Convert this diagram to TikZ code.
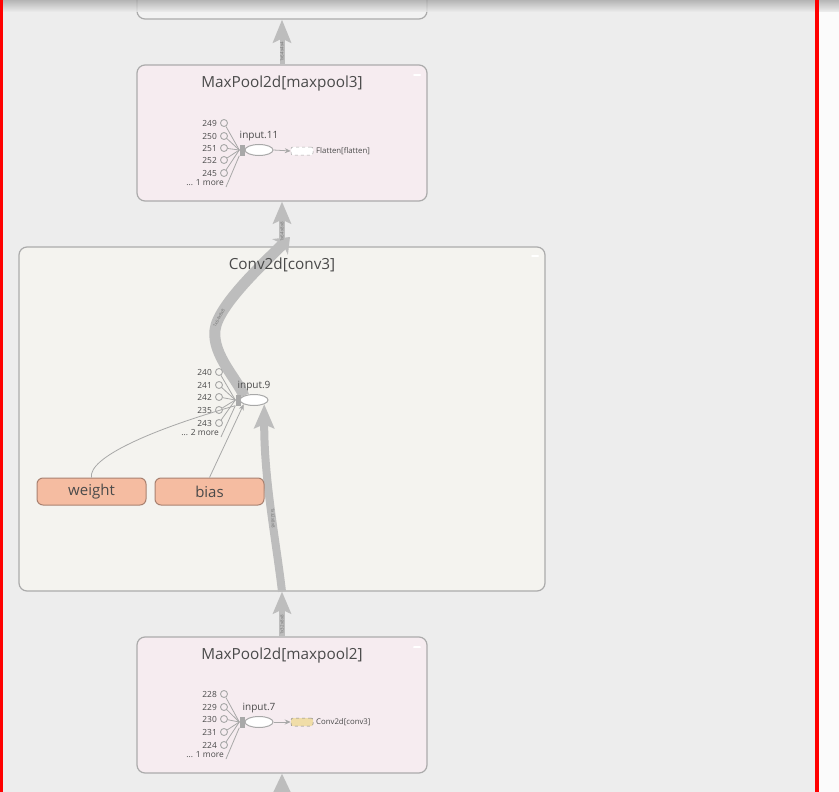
\documentclass[tikz,border=0pt]{standalone}
\usepackage{fontspec}
\setmainfont{Open Sans}
\usetikzlibrary{arrows.meta,shapes.geometric}
\definecolor{bgc}{HTML}{EDEDED}
\definecolor{boxline}{HTML}{ABABAB}
\definecolor{pinkfill}{HTML}{F6ECF0}
\definecolor{convfill}{HTML}{F4F3EF}
\definecolor{edgec}{HTML}{BDBDBD}
\definecolor{thinc}{HTML}{A8A8A8}
\definecolor{peach}{HTML}{F5BCA1}
\definecolor{peachline}{HTML}{A98170}
\definecolor{txt}{HTML}{4A4A4A}
\definecolor{redb}{HTML}{FF0000}
\definecolor{flatfill}{HTML}{F0DDA8}
\pgfdeclarelayer{bg}
\pgfdeclarelayer{edges}
\pgfdeclarelayer{top}
\pgfsetlayers{bg,edges,main,top}
\tikzset{
  groupbox/.style={draw=boxline, line width=1.2pt, rounded corners=8pt, inner sep=0pt},
  title/.style={text=txt, font=\fontsize{15.3}{17}\selectfont, inner sep=0pt},
  small/.style={text=txt, font=\fontsize{8.4}{9}\selectfont, inner sep=0pt},
  opnode/.style={draw=thinc, fill=white, ellipse, line width=1pt, minimum width=28pt, minimum height=11pt, inner sep=0pt},
  inport/.style={draw=thinc, fill=none, circle, line width=0.9pt, minimum size=7pt, inner sep=0pt},
  junc/.style={fill=thinc, minimum width=5pt, minimum height=11pt, inner sep=0pt},
  thin/.style={draw=thinc, line width=0.8pt},
  bigedge/.style={draw=edgec, line cap=butt},
  elabel/.style={text=black!55, font=\fontsize{4.5}{5}\selectfont, inner sep=0pt},
  paramnode/.style={draw=peachline, fill=peach, rounded corners=6pt, line width=1pt, minimum width=109pt, minimum height=27pt, inner sep=0pt, text=txt, font=\fontsize{15}{17}\selectfont},
  minus/.style={fill=white, minimum width=8pt, minimum height=1.6pt, inner sep=0pt, rounded corners=0.8pt}
}
\begin{document}
\begin{tikzpicture}[x=1pt,y=-1pt]
\useasboundingbox (0,0) rectangle (839,792);
\clip (0,0) rectangle (839,792);

\begin{pgfonlayer}{bg}
\fill[bgc] (0,0) rectangle (839,792);
\fill[white!97!gray] (819,0) rectangle (839,792);
\node[groupbox, fill=bgc!70!white, minimum width=290pt, minimum height=60pt] (topbox) at (282,-11) {};
\node[groupbox, fill=pinkfill, minimum width=290pt, minimum height=136pt] (mp3) at (282,133) {};
\node[minus] (mp3m) at (417,75) {};
\node[groupbox, fill=convfill, minimum width=526pt, minimum height=344pt] (cv3) at (282,419) {};
\node[minus] (cv3m) at (535,256) {};
\node[groupbox, fill=pinkfill, minimum width=290pt, minimum height=136pt] (mp2) at (282,705) {};
\node[minus] (mp2m) at (417,647) {};
\end{pgfonlayer}

% ---------- maxpool3 inner ----------
\node[junc] (j3) at (242,150) {};
\node[opnode] (in11) at (259,150) {};
\node[small, font=\fontsize{10}{11}\selectfont] (in11l) at (259,136) {input.11};
\foreach \y/\t [count=\i] in {123/249,136/250,148/251,160/252,173/245}{
  \node[inport] (a\i) at (224,\y) {};
  \node[small, anchor=east] (al\i) at (217,\y) {\t};
  \draw[thin] (a\i) -- (j3.west);
}
\node[small, anchor=east] (amore) at (224,183) {... 1 more};
\draw[thin] (226,187) -- (j3.south west);
\node[draw=thinc, dashed, fill=white, rounded corners=2pt, minimum width=22pt, minimum height=8pt, inner sep=0pt, line width=0.5pt] (flat) at (302,151) {};
\draw[thin, -{Stealth[length=6pt,width=5pt]}] (in11.east) -- (flat.west);
\node[small, anchor=west, font=\fontsize{7.8}{8}\selectfont] (flatl) at (316,151) {Flatten[flatten]};

% ---------- conv3 inner ----------
\node[junc] (j9) at (238,400) {};
\node[opnode] (in9) at (254,400) {};
\node[small, font=\fontsize{10}{11}\selectfont] (in9l) at (254,386) {input.9};
\foreach \y/\t [count=\i] in {372/240,385/241,397/242,410/235,423/243}{
  \node[inport] (b\i) at (219,\y) {};
  \node[small, anchor=east] (bl\i) at (212,\y) {\t};
  \draw[thin] (b\i) -- (j9.west);
}
\node[small, anchor=east] (bmore) at (219,433) {... 2 more};
\draw[thin] (221,437) -- (j9.south west);
\node[paramnode] (weight) at (91.5,491.5) {weight};
\node[paramnode] (bias) at (209.5,491.5) {bias};
\draw[thin] (weight.north) .. controls (88,458) and (150,430) .. (j9.south west);
\draw[thin, -{Stealth[length=6pt,width=5pt]}] (bias.north) -- (in9.south west);

% ---------- maxpool2 inner ----------
\node[junc] (j7) at (242,722) {};
\node[opnode] (in7) at (259,722) {};
\node[small, font=\fontsize{10}{11}\selectfont] (in7l) at (259,708) {input.7};
\foreach \y/\t [count=\i] in {694/228,707/229,719/230,732/231,745/224}{
  \node[inport] (c\i) at (224,\y) {};
  \node[small, anchor=east] (cl\i) at (217,\y) {\t};
  \draw[thin] (c\i) -- (j7.west);
}
\node[small, anchor=east] (cmore) at (224,755) {... 1 more};
\draw[thin] (226,759) -- (j7.south west);
\node[draw=thinc!80!black, dashed, fill=flatfill, rounded corners=2pt, minimum width=22pt, minimum height=8pt, inner sep=0pt, line width=0.5pt] (cv3ref) at (302,722) {};
\draw[thin, -{Stealth[length=6pt,width=5pt]}] (in7.east) -- (cv3ref.west);
\node[small, anchor=west, font=\fontsize{7.8}{8}\selectfont] (cv3refl) at (316,722) {Conv2d[conv3]};

% ---------- big edges (on edge layer, beneath nodes) ----------
\begin{pgfonlayer}{edges}
\draw[bigedge, line width=5pt, -{Stealth[length=23pt,width=18pt,inset=4pt]}] (mp3.north) -- (topbox.south);
\draw[bigedge, line width=6pt, -{Stealth[length=22pt,width=18pt,inset=4pt]}] (cv3.north) -- (mp3.south);
\coordinate (cv3out) at (290,237);
\draw[bigedge, line width=11pt, -{Stealth[length=14pt,width=22pt,inset=4pt]}] (in9.north west) .. controls (238,380) and (212,355) .. (215,330) .. controls (218,305) and (265,262) .. (cv3out);
\draw[bigedge, line width=6pt, -{Stealth[length=22pt,width=18pt,inset=4pt]}] (mp2.north) -- (cv3.south);
\draw[bigedge, line width=8pt, -{Stealth[length=24pt,width=20pt,inset=4pt]}] (cv3.south) .. controls (276,540) and (264,480) .. (in9.south east);
\coordinate (below) at (282,830);
\draw[bigedge, line width=6pt, -{Stealth[length=24pt,width=22pt,inset=4pt]}] (below) -- (mp2.south);
\node[elabel, rotate=90] (e1) at (282,52) {1x64x4x4};
\node[elabel, rotate=90] (e2) at (282,232) {1x64x8x8};
\node[elabel, rotate=62] (e3) at (219,318) {1x64x8x8};
\node[elabel, rotate=90] (e4) at (282,625) {1x32x8x8};
\node[elabel, rotate=-88] (e5) at (273,518) {1x32x8x8};
\end{pgfonlayer}

\begin{pgfonlayer}{top}
\node[title] (mp3t) at (282,84) {MaxPool2d[maxpool3]};
\node[title] (cv3t) at (282,265) {Conv2d[conv3]};
\node[title] (mp2t) at (282,656) {MaxPool2d[maxpool2]};
\shade[top color=black!35, bottom color=bgc, opacity=0.8] (0,0) rectangle (839,12);
\fill[redb] (0,0) rectangle (3,792);
\fill[redb] (815,0) rectangle (819,792);
\end{pgfonlayer}
\end{tikzpicture}
\end{document}
